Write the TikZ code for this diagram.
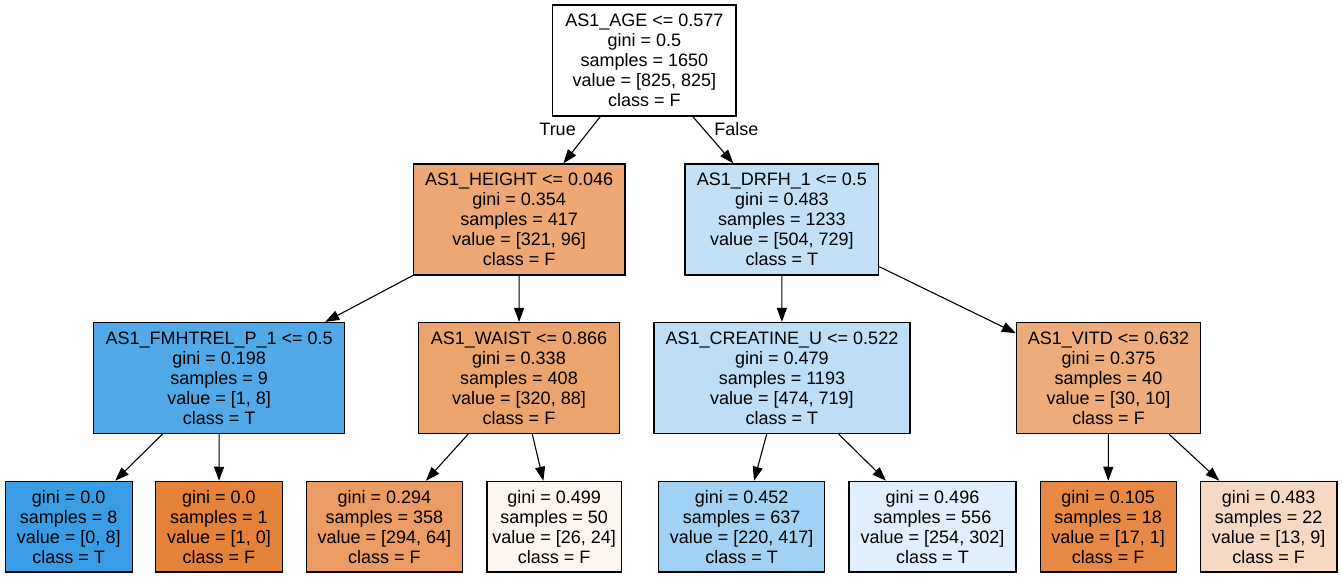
\documentclass[tikz,border=0pt]{standalone}
\usepackage{fontspec}
\setmainfont{Liberation Sans}
\usepackage{xcolor}
\usetikzlibrary{arrows.meta}

\definecolor{hgtfill}{RGB}{237,167,116}
\definecolor{drfhfill}{RGB}{194,225,247}
\definecolor{fmhfill}{RGB}{82,169,232}
\definecolor{waistfill}{RGB}{236,164,111}
\definecolor{creatfill}{RGB}{188,222,246}
\definecolor{vitdfill}{RGB}{238,171,123}
\definecolor{pureT}{RGB}{57,157,229}
\definecolor{pureF}{RGB}{229,129,57}
\definecolor{lfthree}{RGB}{235,156,100}
\definecolor{lffour}{RGB}{253,245,240}
\definecolor{lffive}{RGB}{161,209,243}
\definecolor{lfsix}{RGB}{224,239,251}
\definecolor{lfseven}{RGB}{231,136,69}
\definecolor{lfeight}{RGB}{247,216,194}

\begin{document}
\begin{tikzpicture}[
    x=1pt, y=-1pt,
    every node/.style={font=\fontsize{18}{20}\selectfont},
    split/.style={draw, line width=1.2pt, align=center, inner sep=0pt, minimum height=111pt},
    leaf/.style={split, minimum height=90.7pt},
    arr/.style={-{Triangle[length=14pt,width=10pt]}, line width=1.1pt}
]
\useasboundingbox (0,0) rectangle (1342,577);

% root and first split
\node[split, fill=white, minimum width=183.3pt] (root) at (644.4,60.5)
  {AS1\_AGE <= 0.577\\gini = 0.5\\samples = 1650\\value = [825, 825]\\class = F};
\node[split, fill=hgtfill, minimum width=211.6pt] (height) at (519.2,219.5)
  {AS1\_HEIGHT <= 0.046\\gini = 0.354\\samples = 417\\value = [321, 96]\\class = F};
\node[split, fill=drfhfill, minimum width=193.6pt] (drfh) at (781.8,219.5)
  {AS1\_DRFH\_1 <= 0.5\\gini = 0.483\\samples = 1233\\value = [504, 729]\\class = T};

% second level
\node[split, fill=fmhfill, minimum width=250.8pt] (fmhtrel) at (219.2,378)
  {AS1\_FMHTREL\_P\_1 <= 0.5\\gini = 0.198\\samples = 9\\value = [1, 8]\\class = T};
\node[split, fill=waistfill, minimum width=200.4pt] (waist) at (519,378)
  {AS1\_WAIST <= 0.866\\gini = 0.338\\samples = 408\\value = [320, 88]\\class = F};
\node[split, fill=creatfill, minimum width=256pt] (creatine) at (781.9,378)
  {AS1\_CREATINE\_U <= 0.522\\gini = 0.479\\samples = 1193\\value = [474, 719]\\class = T};
\node[split, fill=vitdfill, minimum width=184pt] (vitd) at (1108.5,378)
  {AS1\_VITD <= 0.632\\gini = 0.375\\samples = 40\\value = [30, 10]\\class = F};

% leaves
\node[leaf, fill=pureT, minimum width=126.7pt] (lf1) at (68.75,526.7)
  {gini = 0.0\\samples = 8\\value = [0, 8]\\class = T};
\node[leaf, fill=pureF, minimum width=127.2pt] (lf2) at (219,526.7)
  {gini = 0.0\\samples = 1\\value = [1, 0]\\class = F};
\node[leaf, fill=lfthree, minimum width=156.2pt] (lf3) at (384.4,526.7)
  {gini = 0.294\\samples = 358\\value = [294, 64]\\class = F};
\node[leaf, fill=lffour, minimum width=134.4pt] (lf4) at (554.2,526.7)
  {gini = 0.499\\samples = 50\\value = [26, 24]\\class = F};
\node[leaf, fill=lffive, minimum width=166.5pt] (lf5) at (741.6,526.7)
  {gini = 0.452\\samples = 637\\value = [220, 417]\\class = T};
\node[leaf, fill=lfsix, minimum width=167pt] (lf6) at (932.5,526.7)
  {gini = 0.496\\samples = 556\\value = [254, 302]\\class = T};
\node[leaf, fill=lfseven, minimum width=136.1pt] (lf7) at (1108.2,526.7)
  {gini = 0.105\\samples = 18\\value = [17, 1]\\class = F};
\node[leaf, fill=lfeight, minimum width=136.6pt] (lf8) at (1268.7,526.7)
  {gini = 0.483\\samples = 22\\value = [13, 9]\\class = F};

\draw[arr] (root) -- node[pos=0.27, left=14pt, inner sep=0pt]{True} (height);
\draw[arr] (root) -- node[pos=0.27, right=10pt, inner sep=0pt]{False} (drfh);
\draw[arr] (height) -- (fmhtrel);
\draw[arr] (height) -- (waist);
\draw[arr] (drfh) -- (creatine);
\draw[arr] (drfh) -- (vitd);
\draw[arr] (fmhtrel) -- (lf1);
\draw[arr] (fmhtrel) -- (lf2);
\draw[arr] (waist) -- (lf3);
\draw[arr] (waist) -- (lf4);
\draw[arr] (creatine) -- (lf5);
\draw[arr] (creatine) -- (lf6);
\draw[arr] (vitd) -- (lf7);
\draw[arr] (vitd) -- (lf8);
\end{tikzpicture}
\end{document}
